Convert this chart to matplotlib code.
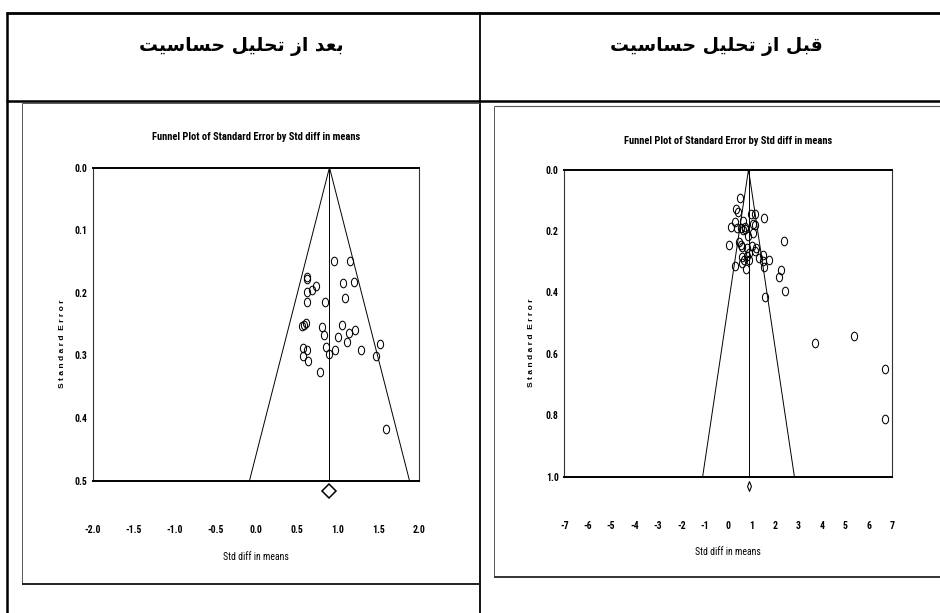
import matplotlib
matplotlib.use("Agg")
import matplotlib.pyplot as plt
import numpy as np
from matplotlib.lines import Line2D
from matplotlib.path import Path
from matplotlib.transforms import Affine2D, blended_transform_factory
from matplotlib import font_manager

# column headers (persian)
header_after = "بعد از تحلیل حساسیت"
header_before = "قبل از تحلیل حساسیت"
plot_title = "Funnel Plot of Standard Error by Std diff in means"
x_title = "Std diff in means"
y_title = "Standard Error"

# after sensitivity analysis (left panel)
after_diff = [0.96, 1.15, 0.63, 0.63, 1.07, 1.20, 0.74, 0.69, 0.62, 1.09, 0.85, 0.62,
              0.56, 0.59, 0.61, 1.05, 0.81, 1.21, 1.14, 0.83, 1.01, 1.12, 1.52, 0.86,
              0.58, 0.63, 0.97, 1.29, 0.90, 0.58, 1.47, 0.64, 0.78, 1.59]
after_se = [0.149, 0.149, 0.175, 0.178, 0.184, 0.183, 0.189, 0.196, 0.199, 0.208, 0.214, 0.215,
            0.253, 0.251, 0.249, 0.252, 0.255, 0.260, 0.264, 0.268, 0.271, 0.278, 0.281, 0.287,
            0.288, 0.291, 0.291, 0.292, 0.297, 0.301, 0.301, 0.309, 0.327, 0.418]
after_mean = 0.90
after_se_max = 0.5
after_xticks = [-2.0, -1.5, -1.0, -0.5, 0.0, 0.5, 1.0, 1.5, 2.0]
after_xlabels = ["-2.0", "-1.5", "-1.0", "-0.5", "0.0", "0.5", "1.0", "1.5", "2.0"]
after_yticks = [0.0, 0.1, 0.2, 0.3, 0.4, 0.5]
after_ylabels = ["0.0", "0.1", "0.2", "0.3", "0.4", "0.5"]

# before sensitivity analysis (right panel)
before_diff = [0.51, 0.34, 0.40, 0.96, 1.13, 1.54, 0.30, 0.63, 1.08, 1.16, 0.14, 0.37,
               0.54, 0.70, 0.63, 0.73, 1.08, 0.83, 2.40, 0.03, 0.47, 0.56, 0.61, 1.04,
               1.20, 0.80, 1.13, 1.48, 0.91, 0.80, 0.61, 1.30, 0.66, 0.90, 1.48, 1.73,
               0.61, 0.30, 0.77, 1.55, 2.27, 2.18, 2.42, 1.58, 3.71, 5.36, 6.69, 6.69]
before_se = [0.094, 0.130, 0.138, 0.145, 0.144, 0.157, 0.170, 0.168, 0.179, 0.181, 0.187, 0.190,
             0.190, 0.187, 0.197, 0.194, 0.206, 0.217, 0.233, 0.246, 0.235, 0.246, 0.252, 0.248,
             0.257, 0.254, 0.265, 0.277, 0.273, 0.281, 0.284, 0.287, 0.295, 0.293, 0.298, 0.293,
             0.303, 0.315, 0.324, 0.317, 0.328, 0.349, 0.395, 0.416, 0.564, 0.542, 0.651, 0.811]
before_mean = 0.87
before_se_max = 1.0
before_xticks = [-7, -6, -5, -4, -3, -2, -1, 0, 1, 2, 3, 4, 5, 6, 7]
before_xlabels = [str(v) for v in before_xticks]
before_yticks = [0.0, 0.2, 0.4, 0.6, 0.8, 1.0]
before_ylabels = ["0.0", "0.2", "0.4", "0.6", "0.8", "1.0"]

W, H = 940, 613

names = set(f.name for f in font_manager.fontManager.ttflist)
narrow = "DejaVu Sans"
for cand in ["Liberation Sans Narrow", "Arial Narrow", "Roboto Condensed", "Liberation Sans"]:
  if cand in names:
    narrow = cand
    break

# minimal arabic shaping (presentation forms), matplotlib has no shaping
FORMS = {
  'ا': ('\uFE8D', '\uFE8E', None, None),
  'ب': ('\uFE8F', '\uFE90', '\uFE91', '\uFE92'),
  'ت': ('\uFE95', '\uFE96', '\uFE97', '\uFE98'),
  'ح': ('\uFEA1', '\uFEA2', '\uFEA3', '\uFEA4'),
  'د': ('\uFEA9', '\uFEAA', None, None),
  'ز': ('\uFEAF', '\uFEB0', None, None),
  'س': ('\uFEB1', '\uFEB2', '\uFEB3', '\uFEB4'),
  'ع': ('\uFEC9', '\uFECA', '\uFECB', '\uFECC'),
  'ق': ('\uFED5', '\uFED6', '\uFED7', '\uFED8'),
  'ل': ('\uFEDD', '\uFEDE', '\uFEDF', '\uFEE0'),
  'ی': ('\uFBFC', '\uFBFD', '\uFEF3', '\uFEF4'),
}

def shape(text):
  out = []
  for i, ch in enumerate(text):
    if ch not in FORMS:
      out.append(ch)
      continue
    prev = text[i-1] if i > 0 else ''
    nxt = text[i+1] if i + 1 < len(text) else ''
    jp = prev in FORMS and FORMS[prev][2] is not None
    jn = FORMS[ch][2] is not None and nxt in FORMS
    f = FORMS[ch]
    if jp and jn:
      out.append(f[3])
    elif jp:
      out.append(f[1])
    elif jn:
      out.append(f[2])
    else:
      out.append(f[0])
  return ''.join(reversed(out))

def fx(px):
  return px / W

def fy(py):
  return 1 - py / H

fig = plt.figure(figsize=(9.4, 6.13), dpi=100)

def line(x0, y0, x1, y1, lw, color='black'):
  fig.add_artist(Line2D([fx(x0), fx(x1)], [fy(y0), fy(y1)], transform=fig.transFigure,
                        lw=lw, color=color, solid_capstyle='butt'))

# table grid
line(6, 13, 940, 13, 2.0)
line(6, 100.5, 940, 100.5, 1.8)
line(7.3, 12, 7.3, 613, 1.8)
line(480, 12, 480, 613, 1.3)
# picture frames
line(22.3, 102.5, 480, 102.5, 0.7, '#555555')
line(22.3, 102.5, 22.3, 584, 0.7, '#555555')
line(22.3, 583.5, 480, 583.5, 1.4, '#222222')
line(494.3, 105.7, 940, 105.7, 0.8, '#555555')
line(494.3, 105.7, 494.3, 577.3, 0.7, '#555555')
line(494.3, 577.3, 940, 577.3, 1.4, '#333333')

fig.text(fx(241), fy(46), shape(header_after), ha='center', va='center',
         family='DejaVu Sans', fontweight='bold', fontsize=13.5)
fig.text(fx(716), fy(46), shape(header_before), ha='center', va='center',
         family='DejaVu Sans', fontweight='bold', fontsize=13.5)

ellipse = Path(Affine2D().scale(0.72, 1.0).transform(Path.unit_circle().vertices),
               Path.unit_circle().codes)
thin_diamond = [(0, 1), (0.4, 0), (0, -1), (-0.4, 0), (0, 1)]

def funnel(box, diffs, ses, mean, se_max, xticks, xlabels, yticks, ylabels,
           title_xy, ylab_x, xlab_y, summary_marker):
  l, t, r, b = box
  ax = fig.add_axes([fx(l), fy(b), fx(r) - fx(l), fy(t) - fy(b)])
  ax.set_xlim(xticks[0], xticks[-1])
  ax.set_ylim(se_max, 0)
  half = 1.96 * se_max
  ax.plot([mean - half, mean, mean + half], [se_max, 0, se_max], color='black', lw=0.7)
  ax.plot([mean, mean], [0, se_max], color='black', lw=0.7)
  ax.plot(diffs, ses, linestyle='none', marker=ellipse, markersize=6.2,
          markerfacecolor='none', markeredgecolor='black', markeredgewidth=0.75)
  trans = blended_transform_factory(ax.transData, ax.transAxes)
  ax.plot([mean], [-(summary_marker[1]) / (b - t)], transform=trans, clip_on=False,
          **summary_marker[0])

  for side in ['top', 'bottom']:
    ax.spines[side].set_linewidth(1.4)
  for side in ['left', 'right']:
    ax.spines[side].set_linewidth(0.8)
    ax.spines[side].set_color('#333333')

  ax.set_xticks(xticks)
  ax.set_xticklabels(xlabels, family=narrow, fontweight='bold', fontsize=7)
  ax.tick_params(axis='x', which='major', length=0, pad=32)
  ax.set_xticks(xticks[1:-1], minor=True)
  ax.tick_params(axis='x', which='minor', direction='inout', length=6, width=0.7)
  ax.set_yticks(yticks)
  ax.set_yticklabels(ylabels, family=narrow, fontweight='bold', fontsize=7)
  ax.tick_params(axis='y', length=0, pad=4)

  fig.text(fx(title_xy[0]), fy(title_xy[1]), plot_title, ha='center', va='center',
           family=narrow, fontweight='bold', fontsize=7.6)
  fig.text(fx(ylab_x), fy((t + b) / 2 + 20), ' '.join(y_title).replace('   ', '  '),
           rotation=90, ha='center', va='center', family='Liberation Sans',
           fontweight='bold', fontsize=6)
  fig.text(fx((l + r) / 2), fy(xlab_y), x_title, ha='center', va='center',
           family=narrow, fontsize=7)
  return ax

funnel((92.7, 167.5, 419.3, 480.7), after_diff, after_se, after_mean, after_se_max,
       after_xticks, after_xlabels, after_yticks, after_ylabels,
       (256, 137), 62, 557,
       (dict(marker='D', markersize=7.5, markerfacecolor='white', markeredgecolor='black',
             markeredgewidth=1.1), 10))

funnel((564.3, 169.5, 892, 476.7), before_diff, before_se, before_mean, before_se_max,
       before_xticks, before_xlabels, before_yticks, before_ylabels,
       (728, 141), 531.7, 551.7,
       (dict(marker=thin_diamond, markersize=7, markerfacecolor='white',
             markeredgecolor='black', markeredgewidth=0.8), 9.5))

fig.savefig("out.png", dpi=100)
